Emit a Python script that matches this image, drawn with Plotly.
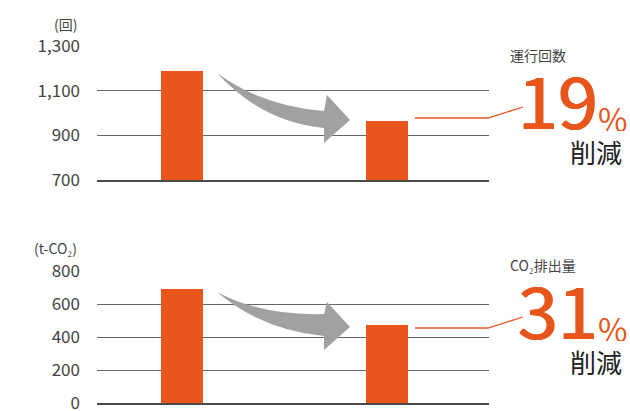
import plotly.graph_objects as go
from plotly.subplots import make_subplots

# ---- data ----
periods = [0, 1]  # before / after
runs = [1190, 965]          # 運行回数 (回)
co2 = [690, 475]            # CO2排出量 (t-CO2)
runs_ticks = [700, 900, 1100, 1300]
co2_ticks = [0, 200, 400, 600, 800]
runs_label = "運行回数"
co2_label = "CO₂排出量"
runs_cut = "19"
co2_cut = "31"

W, H = 630, 411
ORANGE = "#E8561C"
GRID = "#666666"
TXT = "#444444"
FONT = "Noto Sans CJK JP"


def px(x, y):
    return x / W, 1 - y / H


fig = make_subplots(rows=2, cols=1)
fig.add_trace(go.Bar(x=periods, y=runs, marker_color=ORANGE, width=0.205,
                     marker_line_width=0), row=1, col=1)
fig.add_trace(go.Bar(x=periods, y=co2, marker_color=ORANGE, width=0.205,
                     marker_line_width=0), row=2, col=1)

xdom = [97 / W, 489 / W]
xcommon = dict(domain=xdom, range=[-0.415, 1.497], showticklabels=False,
               showgrid=False, zeroline=False, showline=True, automargin=False,
               linecolor="#4a4a4a", linewidth=2, ticks="")
fig.update_xaxes(**xcommon)

ycommon = dict(showgrid=True, gridcolor=GRID, gridwidth=1.3, zeroline=False,
               showline=False, ticks="", ticklabelstandoff=16, automargin=False,
               ticklabeloverflow="allow",
               tickfont=dict(family=FONT, size=17, color=TXT), tickformat=",")
fig.update_yaxes(**ycommon)
fig.update_yaxes(domain=[1 - 180 / H, 1 - 46 / H], range=[700, 1300],
                 tickvals=runs_ticks, row=1, col=1)
fig.update_yaxes(domain=[1 - 403.3 / H, 1 - 271 / H], range=[0, 800],
                 tickvals=co2_ticks, row=2, col=1)

shapes = []
annos = []


def arrow_path(pts):
    (s, c1, b1, ht, tip, hb, b2, c2) = pts
    p = lambda q: "%f,%f" % px(*q)
    return ("M %s Q %s %s L %s L %s L %s L %s Q %s %s Z" %
            (p(s), p(c1), p(b1), p(ht), p(tip), p(hb), p(b2), p(c2), p(s)))


# grey curved arrows (decoration)
shapes.append(dict(type="path", xref="paper", yref="paper", layer="above",
                   path=arrow_path([(217, 73), (262, 106), (324, 111), (327, 95),
                                    (350, 120), (324, 143), (324, 128), (262, 122)]),
                   fillcolor="#a0a2a1", line=dict(width=0)))
shapes.append(dict(type="path", xref="paper", yref="paper", layer="above",
                   path=arrow_path([(217, 292), (262, 316), (324, 314), (327, 302),
                                    (350, 327), (324, 350), (324, 336), (262, 330)]),
                   fillcolor="#a0a2a1", line=dict(width=0)))


def leader(y0, y1):
    a = px(415, y0); b = px(488, y0); c = px(523, y1)
    return dict(type="path", xref="paper", yref="paper",
                path="M %f,%f L %f,%f L %f,%f" % (a + b + c),
                line=dict(color=ORANGE, width=1.3))


shapes.append(leader(118, 107))
shapes.append(leader(328, 317))


def text(x, y, s, size, color, xanchor="left", family=FONT, height=None,
         shadow=None):
    xx, yy = px(x, y)
    f = dict(family=family, size=size, color=color)
    if shadow:
        f["shadow"] = shadow
    d = dict(x=xx, y=yy, xref="paper", yref="paper", text=s,
             showarrow=False, xanchor=xanchor, yanchor="middle", font=f)
    if height:
        d["height"] = height
    annos.append(d)


thick = "0.8px 0 0 %s, -0.8px 0 0 %s" % (ORANGE, ORANGE)
text(79, 24, "(回)", 14, TXT, "right")
text(79, 248, "(t-CO₂)", 14, TXT, "right")

for yoff, lab, cut in [(0, runs_label, runs_cut), (210, co2_label, co2_cut)]:
    text(508, 55 + yoff, lab, 14, TXT, "left")
    text(600, 97 + yoff, cut, 72, ORANGE, "right", shadow=thick)
    text(596, 118 + yoff, "%", 32, ORANGE, "left", height=26)
    text(624, 151 + yoff, "削減", 26, "#222222", "right", height=28)

fig.update_layout(width=W, height=H, margin=dict(l=0, r=0, t=0, b=0),
                  plot_bgcolor="white", paper_bgcolor="white",
                  showlegend=False, shapes=shapes, annotations=annos,
                  bargap=0)
fig.write_html("out.html")
